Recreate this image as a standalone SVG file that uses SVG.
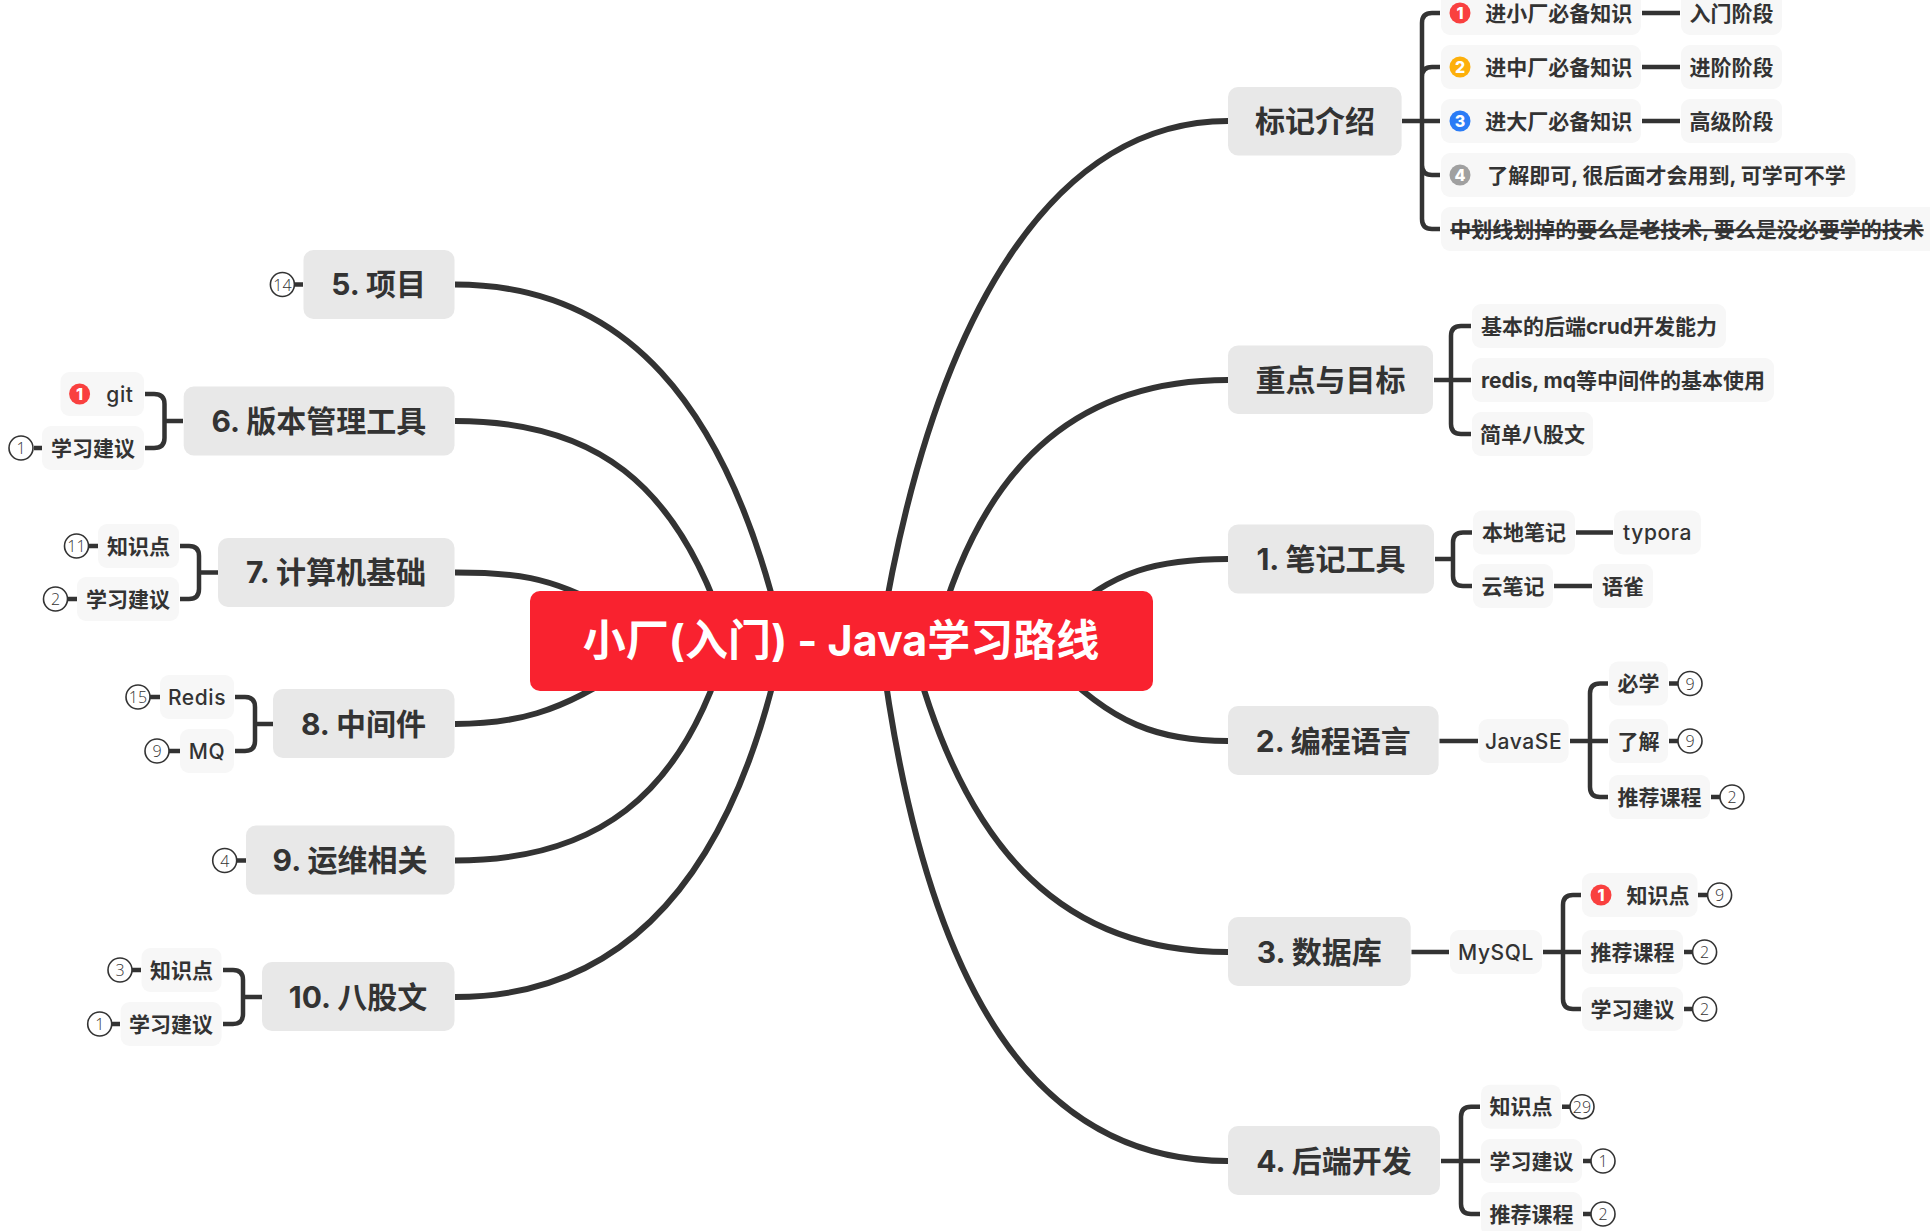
<svg xmlns="http://www.w3.org/2000/svg" width="1930" height="1231" viewBox="0 0 1930 1231">
<style>
text{font-family:"Inter","Noto Sans CJK SC",sans-serif;fill:#333;text-anchor:middle;dominant-baseline:central}
.c{fill:none;stroke:#333;stroke-width:4.5}
.m{fill:none;stroke:#333;stroke-width:6}
.l1{fill:#e8e8e8}
.l2{fill:#f7f7f7}
.t1{font-size:30px;font-weight:700;transform:translateY(-0.500px)}
.t2{font-size:21px;font-weight:700;transform:translateY(0.300px)}
.lat{font-weight:500;letter-spacing:.6px}
.b{fill:#fff;stroke:#333;stroke-width:1.6}
.n{font-family:"Open Sans",sans-serif;font-size:16px;font-weight:300;fill:#333}
.k{font-family:"Inter",sans-serif;font-size:16px;font-weight:800;fill:#fff}
</style>
<g id="connectors">
<path class="m" d="M1228 121C1060 121 935 300 880 640"/>
<path class="m" d="M1228 380C1090 380 985 450 935 640"/>
<path class="m" d="M1228 559C1160 559 1112 570 1060 620"/>
<path class="m" d="M1228 741C1160 741 1112 725 1050 660"/>
<path class="m" d="M1228 952C1070 952 965 860 910 640"/>
<path class="m" d="M1228 1161C1040 1161 925 1000 880 640"/>
<path class="m" d="M455 284.500C622 284.500 728 400 783 640"/>
<path class="m" d="M455 421C592 421 678 480 728 640"/>
<path class="m" d="M455 572.600C510 572.600 550 575 610 610"/>
<path class="m" d="M455 724C510 724 560 715 630 665"/>
<path class="m" d="M455 860.500C592 860.500 683 800 728 640"/>
<path class="m" d="M455 997C622 997 733 880 783 640"/>
<path class="c" d="M1402 121H1440M1440 13H1432Q1422 13 1422 23V219Q1422 229 1432 229H1440M1440 67H1432Q1422 67 1422 77M1440 175H1432Q1422 175 1422 165M1642 13H1680M1642 67H1680M1642 121H1680"/>
<path class="c" d="M1434 380H1471M1471 326H1461Q1451 326 1451 336V424Q1451 434 1461 434H1471"/>
<path class="c" d="M1435 559H1453M1472 532.500H1463Q1453 532.500 1453 542.500V576Q1453 586 1463 586H1472M1576 532.500H1613M1554 586H1592"/>
<path class="c" d="M1439.500 741H1478M1570 741H1608M1608 683.500H1600Q1590 683.500 1590 693.500V787Q1590 797 1600 797H1608M1669 683.500H1678M1669 741H1678M1711 797H1720"/>
<path class="c" d="M1411.500 952H1449M1543 952H1581M1581 895H1573Q1563 895 1563 905V999Q1563 1009 1573 1009H1581M1698 895H1707M1684 952H1693M1684 1009H1693"/>
<path class="c" d="M1441 1161H1480M1480 1106.700H1471Q1461 1106.700 1461 1116.700V1204Q1461 1214 1471 1214H1480M1562 1106.700H1570M1583 1161H1591M1583 1214H1591"/>
<path class="c" d="M294 284.500H303"/>
<path class="c" d="M183 421H164.500M145 394H154Q164.500 394 164.500 404V438Q164.500 448 154 448H145M34 448H42"/>
<path class="c" d="M218 572.600H199M180 546H189Q199 546 199 556V589Q199 599 189 599H180M88 546H98M67 599H77"/>
<path class="c" d="M273 724H255M235 697H245Q255 697 255 707V741Q255 751 245 751H235M150 697H160M169 751H180"/>
<path class="c" d="M236 860.500H246"/>
<path class="c" d="M262 997H243M223 970H233Q243 970 243 980V1014Q243 1024 233 1024H223M132 970H141M111 1024H120"/>
</g>
<g id="root"><rect x="530" y="591" width="623" height="100" rx="10" fill="#f9222f"/><text x="841" y="640" font-size="43" font-weight="700" style="fill:#fff">小厂(入门) - Java学习路线</text></g>

<g id="n-biaoji"><rect class="l1" x="1228" y="87" width="173.600" height="68.500" rx="10"/><text class="t1" x="1315" y="121">标记介绍</text></g>
<g id="n-b1"><rect class="l2" x="1441" y="-9" width="200" height="44" rx="9"/><circle cx="1460" cy="13" r="10.500" fill="#f9403f"/><text class="k" x="1460" y="13">1</text><text class="t2" x="1558.700" y="13">进小厂必备知识</text></g>
<g id="n-b1a"><rect class="l2" x="1681" y="-9" width="101" height="44" rx="9"/><text class="t2" x="1731.500" y="13">入门阶段</text></g>
<g id="n-b2"><rect class="l2" x="1441" y="45" width="200" height="44" rx="9"/><circle cx="1460" cy="67" r="10.500" fill="#fdb00b"/><text class="k" x="1460" y="67">2</text><text class="t2" x="1558.700" y="67">进中厂必备知识</text></g>
<g id="n-b2a"><rect class="l2" x="1681" y="45" width="101" height="44" rx="9"/><text class="t2" x="1731.500" y="67">进阶阶段</text></g>
<g id="n-b3"><rect class="l2" x="1441" y="99" width="200" height="44" rx="9"/><circle cx="1460" cy="121" r="10.500" fill="#2b7cf6"/><text class="k" x="1460" y="121">3</text><text class="t2" x="1558.700" y="121">进大厂必备知识</text></g>
<g id="n-b3a"><rect class="l2" x="1681" y="99" width="101" height="44" rx="9"/><text class="t2" x="1731.500" y="121">高级阶段</text></g>
<g id="n-b4"><rect class="l2" x="1441" y="153" width="414.500" height="44" rx="9"/><circle cx="1460" cy="175" r="10.500" fill="#a0a0a0"/><text class="k" x="1460" y="175">4</text><text class="t2" x="1666.500" y="175">了解即可, 很后面才会用到, 可学可不学</text></g>
<g id="n-b5"><rect class="l2" x="1441" y="207" width="500" height="44" rx="9"/><text class="t2" x="1687" y="229" style="text-decoration:line-through;text-decoration-thickness:1.200px;text-decoration-color:#777">中划线划掉的要么是老技术, 要么是没必要学的技术</text></g>

<g id="n-zhongdian"><rect class="l1" x="1228" y="345.500" width="205" height="68.500" rx="10"/><text class="t1" x="1330.500" y="380">重点与目标</text></g>
<g id="n-z1"><rect class="l2" x="1472" y="304" width="254" height="44" rx="9"/><text class="t2" x="1599" y="326">基本的后端crud开发能力</text></g>
<g id="n-z2"><rect class="l2" x="1472" y="358" width="302" height="44" rx="9"/><text class="t2" x="1623" y="380">redis, mq等中间件的基本使用</text></g>
<g id="n-z3"><rect class="l2" x="1472" y="412" width="121" height="44" rx="9"/><text class="t2" x="1532.500" y="434">简单八股文</text></g>

<g id="n-note"><rect class="l1" x="1228" y="524.500" width="206" height="69" rx="10"/><text class="t1" x="1331" y="559">1. 笔记工具</text></g>
<g id="n-note1"><rect class="l2" x="1473" y="510.500" width="102" height="44" rx="9"/><text class="t2" x="1524" y="532.500">本地笔记</text></g>
<g id="n-note1a"><rect class="l2" x="1614" y="510.500" width="87" height="44" rx="9"/><text class="t2 lat" x="1657.500" y="532.500">typora</text></g>
<g id="n-note2"><rect class="l2" x="1473" y="564" width="80" height="44" rx="9"/><text class="t2" x="1513" y="586">云笔记</text></g>
<g id="n-note2a"><rect class="l2" x="1593" y="564" width="60" height="44" rx="9"/><text class="t2" x="1623" y="586">语雀</text></g>

<g id="n-lang"><rect class="l1" x="1228" y="706" width="210.600" height="69" rx="10"/><text class="t1" x="1333.300" y="741">2. 编程语言</text></g>
<g id="n-java"><rect class="l2" x="1478.600" y="719" width="90" height="44" rx="9"/><text class="t2 lat" x="1523.600" y="741">JavaSE</text></g>
<g id="n-j1"><rect class="l2" x="1609" y="661.500" width="59" height="44" rx="9"/><text class="t2" x="1638.500" y="683.500">必学</text></g>
<g id="n-j1b"><circle class="b" cx="1690" cy="683.500" r="12"/><text class="n" x="1690" y="683.500">9</text></g>
<g id="n-j2"><rect class="l2" x="1609" y="719" width="59" height="44" rx="9"/><text class="t2" x="1638.500" y="741">了解</text></g>
<g id="n-j2b"><circle class="b" cx="1690" cy="741" r="12"/><text class="n" x="1690" y="741">9</text></g>
<g id="n-j3"><rect class="l2" x="1609" y="775" width="101" height="44" rx="9"/><text class="t2" x="1659.500" y="797">推荐课程</text></g>
<g id="n-j3b"><circle class="b" cx="1732" cy="797" r="12"/><text class="n" x="1732" y="797">2</text></g>

<g id="n-db"><rect class="l1" x="1228" y="917" width="182.700" height="69" rx="10"/><text class="t1" x="1319.300" y="952">3. 数据库</text></g>
<g id="n-mysql"><rect class="l2" x="1450" y="930" width="92" height="44" rx="9"/><text class="t2 lat" x="1496" y="952">MySQL</text></g>
<g id="n-d1"><rect class="l2" x="1582" y="873" width="115.500" height="44" rx="9"/><circle cx="1601" cy="895" r="10.500" fill="#f9403f"/><text class="k" x="1601" y="895">1</text><text class="t2" x="1658" y="895">知识点</text></g>
<g id="n-d1b"><circle class="b" cx="1719.600" cy="895" r="12"/><text class="n" x="1719.600" y="895">9</text></g>
<g id="n-d2"><rect class="l2" x="1582" y="930" width="101" height="44" rx="9"/><text class="t2" x="1632.500" y="952">推荐课程</text></g>
<g id="n-d2b"><circle class="b" cx="1704.600" cy="952" r="12"/><text class="n" x="1704.600" y="952">2</text></g>
<g id="n-d3"><rect class="l2" x="1582" y="987" width="101" height="44" rx="9"/><text class="t2" x="1632.500" y="1009">学习建议</text></g>
<g id="n-d3b"><circle class="b" cx="1704.600" cy="1009" r="12"/><text class="n" x="1704.600" y="1009">2</text></g>

<g id="n-back"><rect class="l1" x="1228" y="1126" width="212" height="69" rx="10"/><text class="t1" x="1334" y="1161">4. 后端开发</text></g>
<g id="n-k1"><rect class="l2" x="1481" y="1084.700" width="80" height="44" rx="9"/><text class="t2" x="1521" y="1106.700">知识点</text></g>
<g id="n-k1b"><circle class="b" cx="1582" cy="1106.700" r="12"/><text class="n" x="1582" y="1106.700">29</text></g>
<g id="n-k2"><rect class="l2" x="1481" y="1139" width="101" height="44" rx="9"/><text class="t2" x="1531.500" y="1161">学习建议</text></g>
<g id="n-k2b"><circle class="b" cx="1603" cy="1161" r="12"/><text class="n" x="1603" y="1161">1</text></g>
<g id="n-k3"><rect class="l2" x="1481" y="1192" width="101" height="44" rx="9"/><text class="t2" x="1531.500" y="1214">推荐课程</text></g>
<g id="n-k3b"><circle class="b" cx="1603" cy="1214" r="12"/><text class="n" x="1603" y="1214">2</text></g>

<g id="n-proj"><rect class="l1" x="303.500" y="250" width="151" height="69" rx="10"/><text class="t1" x="378.700" y="284.500">5. 项目</text></g>
<g id="n-proj-b"><circle class="b" cx="282.400" cy="284.500" r="12"/><text class="n" x="282.400" y="284.500">14</text></g>

<g id="n-vcs"><rect class="l1" x="183.700" y="386.500" width="270.800" height="69" rx="10"/><text class="t1" x="318.800" y="421">6. 版本管理工具</text></g>
<g id="n-git"><rect class="l2" x="60.500" y="372" width="83.500" height="44" rx="9"/><circle cx="79.600" cy="394" r="10.500" fill="#f9403f"/><text class="k" x="79.600" y="394">1</text><text class="t2 lat" x="120" y="394">git</text></g>
<g id="n-v2"><rect class="l2" x="42" y="426" width="102" height="44" rx="9"/><text class="t2" x="93" y="448">学习建议</text></g>
<g id="n-v2b"><circle class="b" cx="21" cy="448" r="12"/><text class="n" x="21" y="448">1</text></g>

<g id="n-cs"><rect class="l1" x="218" y="538" width="236.500" height="69" rx="10"/><text class="t1" x="336" y="572.600">7. 计算机基础</text></g>
<g id="n-c1"><rect class="l2" x="98" y="524" width="81" height="44" rx="9"/><text class="t2" x="138.500" y="546">知识点</text></g>
<g id="n-c1b"><circle class="b" cx="76.500" cy="546" r="12"/><text class="n" x="76.500" y="546">11</text></g>
<g id="n-c2"><rect class="l2" x="77" y="577" width="102" height="44" rx="9"/><text class="t2" x="128" y="599">学习建议</text></g>
<g id="n-c2b"><circle class="b" cx="55.500" cy="599" r="12"/><text class="n" x="55.500" y="599">2</text></g>

<g id="n-mw"><rect class="l1" x="273" y="689" width="181.500" height="69" rx="10"/><text class="t1" x="363.500" y="724">8. 中间件</text></g>
<g id="n-m1"><rect class="l2" x="160" y="675" width="74" height="44" rx="9"/><text class="t2 lat" x="197" y="697">Redis</text></g>
<g id="n-m1b"><circle class="b" cx="138" cy="697" r="12"/><text class="n" x="138" y="697">15</text></g>
<g id="n-m2"><rect class="l2" x="180" y="729" width="54" height="44" rx="9"/><text class="t2 lat" x="207" y="751">MQ</text></g>
<g id="n-m2b"><circle class="b" cx="157" cy="751" r="12"/><text class="n" x="157" y="751">9</text></g>

<g id="n-ops"><rect class="l1" x="246" y="825.500" width="208.500" height="69" rx="10"/><text class="t1" x="350" y="860.500">9. 运维相关</text></g>
<g id="n-ops-b"><circle class="b" cx="224.700" cy="860.500" r="12"/><text class="n" x="224.700" y="860.500">4</text></g>

<g id="n-bgw"><rect class="l1" x="262" y="962" width="192.500" height="69" rx="10"/><text class="t1" x="358" y="997">10. 八股文</text></g>
<g id="n-g1"><rect class="l2" x="141.500" y="948" width="80" height="44" rx="9"/><text class="t2" x="181.500" y="970">知识点</text></g>
<g id="n-g1b"><circle class="b" cx="120" cy="970" r="12"/><text class="n" x="120" y="970">3</text></g>
<g id="n-g2"><rect class="l2" x="120.600" y="1002" width="101" height="44" rx="9"/><text class="t2" x="171" y="1024">学习建议</text></g>
<g id="n-g2b"><circle class="b" cx="99.700" cy="1024" r="12"/><text class="n" x="99.700" y="1024">1</text></g>
</svg>
